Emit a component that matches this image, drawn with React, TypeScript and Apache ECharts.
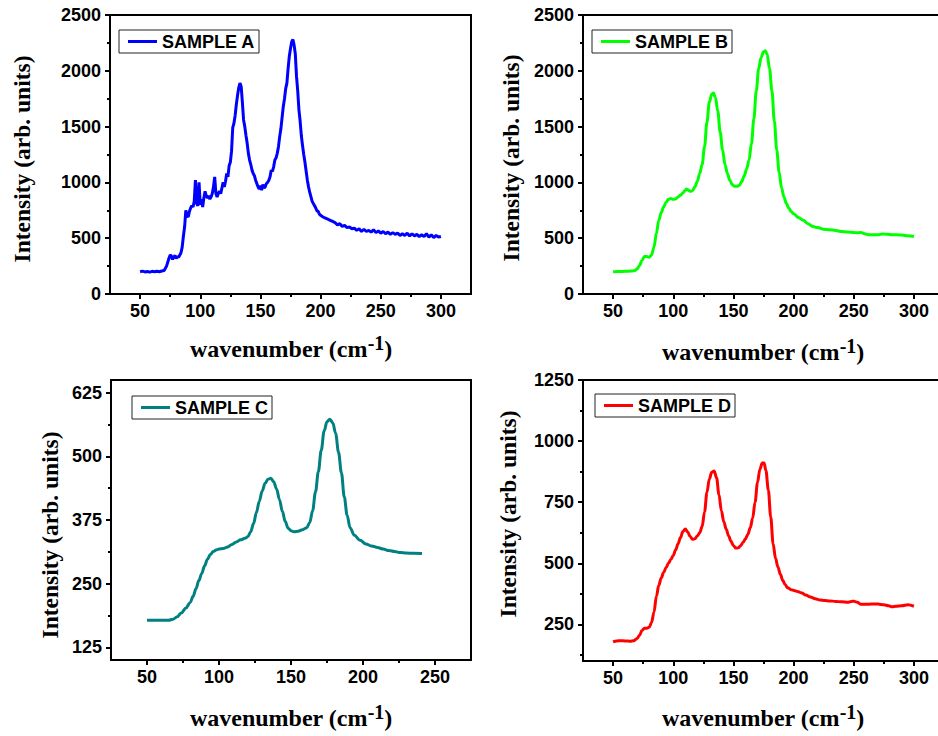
import { useEffect, useRef } from "react";
import * as echarts from "echarts";

// ---------- data ----------
const xA = [50,52,54,56,58,60,62,64,66,68,70,72,74,75,76,77,78,79,80,81,82,83,84,85,86,87,88,89,90,91,92,93,94,95,96,97,98,99,100,101,102,103,104,105,106,107,108,109,110,111,112,113,114,115,116,117,118,119,120,121,122,123,124,125,126,127,128,129,130,131,132,133,134,135,136,137,138,139,140,141,142,143,144,145,146,147,148,149,150,151,152,153,154,155,156,157,158,159,160,161,162,163,164,165,166,167,168,169,170,171,172,173,174,175,176,177,178,179,180,181,182,183,184,185,186,187,188,189,190,191,192,193,194,195,196,197,198,199,200,202,204,206,208,210,212,214,216,218,220,222,224,226,228,230,232,234,236,238,240,242,244,246,248,250,252,254,256,258,260,262,264,266,268,270,272,274,276,278,280,282,284,286,288,290,292,294,296,298,300];
const yA = [200,205,198,202,196,203,199,204,200,206,210,250,320,350,340,310,330,345,320,335,330,350,370,420,520,600,750,700,690,740,770,790,780,830,1020,810,790,1000,800,850,780,860,920,880,860,880,850,870,900,960,1050,900,870,900,920,900,950,1000,960,1010,1080,1050,1150,1180,1280,1490,1530,1600,1700,1780,1850,1890,1860,1720,1560,1500,1420,1350,1260,1200,1160,1110,1080,1060,1020,990,960,940,970,930,980,950,960,990,1000,1020,1050,1110,1100,1140,1200,1220,1260,1320,1410,1480,1580,1680,1750,1840,1890,2020,2130,2200,2260,2280,2230,2150,1950,1820,1650,1550,1420,1330,1250,1180,1100,1020,960,910,870,830,810,790,770,745,740,715,705,690,680,670,660,650,640,620,630,605,615,595,600,585,590,570,585,560,580,560,570,555,575,550,565,545,560,540,555,535,550,535,545,525,540,525,545,520,540,520,535,515,530,515,540,510,530,505,525,510,515];

const xB = [50,55,60,65,68,70,72,74,76,78,80,82,84,86,88,90,92,94,96,98,100,102,104,106,108,110,111,112,114,116,118,120,122,124,126,128,130,132,133.5,135,137,139,141,143,145,147,149,151,153,155,157,159,161,163,165,167,169,171,173,175,176.5,178,180,182,184,186,188,190,192,194,196,198,200,204,208,212,216,220,225,230,235,240,245,250,253,256,259,262,266,270,274,278,282,286,290,295,300];
const yB = [200,201,203,205,210,225,255,300,335,335,330,350,420,545,660,730,780,820,848,855,848,852,870,885,905,930,940,935,920,925,960,1010,1080,1160,1320,1540,1720,1790,1800,1760,1640,1450,1290,1160,1080,1020,980,965,965,975,1010,1060,1120,1200,1350,1570,1820,2020,2120,2170,2180,2150,2020,1820,1550,1290,1090,950,870,810,770,740,720,685,660,630,605,595,580,575,570,560,555,552,548,552,540,532,530,530,538,535,532,530,528,522,515];

const xC = [50,55,60,65,68,71,74,77,80,82,84,86,88,90,92,94,96,98,100,103,106,109,112,115,118,120,122,124,126,128,130,132,134,136,138,140,142,144,146,148,150,152,155,158,161,163,165,167,169,171,173,175,177,179,181,183,185,187,189,191,194,198,202,206,210,214,218,222,226,230,235,241];
const yC = [178,178,178,178,180,185,193,202,213,225,240,256,270,285,298,307,313,316,318,319,322,327,332,336,339,342,352,368,390,412,432,447,455,457,450,436,415,392,372,359,354,352,353,356,360,370,393,430,470,512,550,568,573,566,545,508,468,420,384,360,345,335,328,324,321,318,315,313,311,310,309.5,309];

const xD = [50,53,56,60,64,67,70,72,74,76,78,80,82,84,86,88,90,92,94,96,98,100,102,104,106,108,110,112,114,116,118,120,122,124,126,128,130,132,134,136,138,140,142,144,146,148,150,152,154,156,158,160,162,164,166,168,170,172,174,175.5,177,179,181,183,185,187,189,191,193,195,198,201,204,207,210,214,218,222,226,230,235,240,245,248,250,253,256,260,265,270,275,279,282,285,290,295,300];
const yD = [178,182,183,182,181,183,192,205,225,234,234,238,258,300,365,410,440,462,482,500,515,532,555,580,605,630,640,628,610,598,600,612,625,650,710,790,845,872,878,850,780,715,670,640,612,590,572,562,563,572,585,600,618,645,685,750,830,885,910,910,880,800,690,580,520,485,455,430,412,400,392,388,383,378,370,362,355,350,348,346,344,342,340,344,345,340,332,332,333,333,330,326,322,324,326,330,324];

const seriesNames = ["SAMPLE A", "SAMPLE B", "SAMPLE C", "SAMPLE D"];
const seriesColors = ["#0000FF", "#00FF00", "#008080", "#FF0000"];

const xTicks300 = [50, 100, 150, 200, 250, 300];
const xMinor300 = [75, 125, 175, 225, 275];
const xTicks250 = [50, 100, 150, 200, 250];
const xMinor250 = [75, 125, 175, 225];
const yTicksAB = [0, 500, 1000, 1500, 2000, 2500];
const yMinorAB = [250, 750, 1250, 1750, 2250];
const yTicksC = [125, 250, 375, 500, 625];
const yMinorC = [187.5, 312.5, 437.5, 562.5];
const yTicksD = [250, 500, 750, 1000, 1250];
const yMinorD = [125, 375, 625, 875, 1125];

const yTitle = "Intensity (arb. units)";

// ---------- helpers ----------
const zip = (xs: number[], ys: number[]) => xs.map((x, i) => [x, ys[i]]);

const tickFont = {
  color: "#000",
  fontFamily: "Liberation Sans",
  fontWeight: "bold" as const,
  fontSize: 18,
};

const plain = (v: number) => String(v);

function xAxes(gi: number, min: number, max: number, major: number[], minor: number[]) {
  return [
    {
      type: "value", gridIndex: gi, min, max, position: "bottom",
      axisLine: { show: true, onZero: false, lineStyle: { color: "#000", width: 2 } },
      axisTick: { show: true, customValues: major, length: 5, lineStyle: { color: "#000", width: 2 } },
      axisLabel: { show: true, customValues: major, margin: 8, formatter: plain, ...tickFont },
      splitLine: { show: false },
    },
    {
      type: "value", gridIndex: gi, min, max, position: "bottom",
      axisLine: { show: false },
      axisTick: { show: true, customValues: minor, length: 3, lineStyle: { color: "#000", width: 2 } },
      axisLabel: { show: false },
      splitLine: { show: false },
    },
  ];
}

function yAxes(gi: number, min: number, max: number, major: number[], minor: number[]) {
  return [
    {
      type: "value", gridIndex: gi, min, max, position: "left",
      axisLine: { show: true, onZero: false, lineStyle: { color: "#000", width: 2 } },
      axisTick: { show: true, customValues: major, length: 5, lineStyle: { color: "#000", width: 2 } },
      axisLabel: { show: true, customValues: major, margin: 9, formatter: plain, ...tickFont },
      splitLine: { show: false },
    },
    {
      type: "value", gridIndex: gi, min, max, position: "left",
      axisLine: { show: false },
      axisTick: { show: true, customValues: minor, length: 3, lineStyle: { color: "#000", width: 2 } },
      axisLabel: { show: false },
      splitLine: { show: false },
    },
  ];
}

function yTitleText(x: number, y: number) {
  return {
    type: "text", x, y, rotation: Math.PI / 2,
    style: {
      text: yTitle, fill: "#000", fontFamily: "Liberation Serif", fontWeight: "bold",
      fontSize: 23.5, align: "center", verticalAlign: "middle",
    },
  };
}

function xTitleText(x: number, y: number) {
  return {
    type: "text", x, y,
    style: {
      text: "{m|wavenumber (cm}{s|-1}{m|)}",
      fill: "#000", align: "center", verticalAlign: "middle",
      rich: {
        m: { fontSize: 24, fontFamily: "Liberation Serif", fontWeight: "bold", lineHeight: 28, verticalAlign: "bottom", fill: "#000" },
        s: { fontSize: 20, fontFamily: "Liberation Serif", fontWeight: "bold", lineHeight: 20, verticalAlign: "top", fill: "#000" },
      },
    },
  };
}

function legendFor(name: string, left: number, top: number) {
  return {
    data: [{ name, icon: "rect" }], left, top, orient: "horizontal",
    borderColor: "#222", borderWidth: 1, padding: [2, 4, 2, 9],
    itemWidth: 29, itemHeight: 3, itemGap: 10,
    textStyle: { ...tickFont, lineHeight: 19, padding: [0, 0, 0, 0] },
  };
}

export default function App() {
  const ref = useRef<HTMLDivElement>(null);
  useEffect(() => {
    if (!ref.current) return;
    const chart = echarts.init(ref.current, null, { renderer: "svg" });
    const grids = [
      { left: 110, top: 15, width: 361, height: 279 },
      { left: 583, top: 15, width: 361, height: 279 },
      { left: 111, top: 380, width: 360, height: 280 },
      { left: 583, top: 380, width: 361, height: 281 },
    ].map((g) => ({
      ...g, show: true, borderColor: "#000", borderWidth: 2,
      backgroundColor: "transparent", containLabel: false, outerBoundsMode: "none",
    }));

    const xAxis = [
      ...xAxes(0, 25, 325, xTicks300, xMinor300),
      ...xAxes(1, 25, 325, xTicks300, xMinor300),
      ...xAxes(2, 25, 275, xTicks250, xMinor250),
      ...xAxes(3, 25, 325, xTicks300, xMinor300),
    ];
    const yAxis = [
      ...yAxes(0, 0, 2500, yTicksAB, yMinorAB),
      ...yAxes(1, 0, 2500, yTicksAB, yMinorAB),
      ...yAxes(2, 100, 650, yTicksC, yMinorC),
      ...yAxes(3, 100, 1250, yTicksD, yMinorD),
    ];

    const datas = [zip(xA, yA), zip(xB, yB), zip(xC, yC), zip(xD, yD)];
    const series = datas.map((d, i) => ({
      type: "line", name: seriesNames[i], data: d,
      xAxisIndex: 2 * i, yAxisIndex: 2 * i,
      showSymbol: false, symbol: "none",
      smooth: i === 0 ? false : 0.35, smoothMonotone: "x",
      lineStyle: { color: seriesColors[i], width: 3 },
      itemStyle: { color: seriesColors[i] },
      z: 3,
    }));

    chart.setOption({
      animation: false,
      backgroundColor: "#fff",
      grid: grids,
      xAxis, yAxis, series,
      legend: [
        legendFor(seriesNames[0], 119, 30),
        legendFor(seriesNames[1], 592, 30),
        legendFor(seriesNames[2], 132, 396),
        legendFor(seriesNames[3], 595, 394),
      ],
      graphic: [
        yTitleText(22, 159),
        yTitleText(511, 158),
        yTitleText(50, 535),
        yTitleText(508, 514),
        xTitleText(291, 347),
        xTitleText(763, 350),
        xTitleText(291, 716),
        xTitleText(763, 716),
      ],
    });
    return () => chart.dispose();
  }, []);
  return <div ref={ref} style={{ position: "fixed", left: 0, top: 0, width: 938, height: 736 }} />;
}
